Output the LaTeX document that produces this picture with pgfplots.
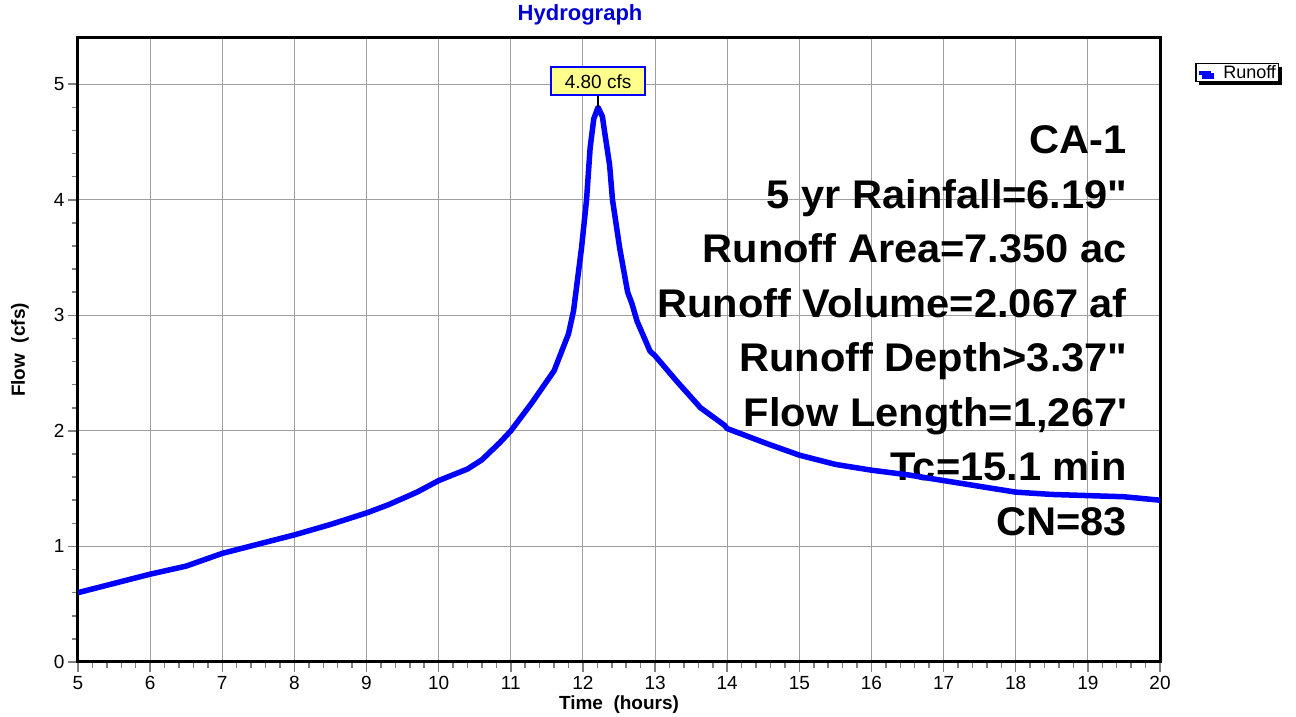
\documentclass[border=0pt]{standalone}
\usepackage{fontspec}
\setmainfont{Liberation Sans}
\newfontfamily\bigfont[FakeStretch=1.04]{Liberation Sans}
\usepackage{pgfplots}
\pgfplotsset{compat=1.18}
\usetikzlibrary{shadows}
\definecolor{runblue}{RGB}{0,0,255}
\definecolor{titleblue}{RGB}{0,0,210}
\definecolor{pkyellow}{RGB}{255,255,140}
\begin{document}
\begin{tikzpicture}
\path[use as bounding box] (-78pt,-55pt) rectangle (1218pt,662pt);
\begin{axis}[
  scale only axis,
  width=1082pt, height=624pt,
  at={(0,0)}, anchor=south west,
  xmin=5, xmax=20, ymin=0, ymax=5.4,
  xtick={5,...,20}, ytick={0,...,5},
  minor x tick num=4, minor y tick num=4,
  xtick pos=bottom, ytick pos=left,
  tick align=outside,
  major tick length=10pt, minor tick length=6pt,
  every tick/.style={gray, line width=1.5pt},
  grid=major,
  major grid style={gray!75, line width=1pt},
  axis line style={line width=3pt, black},
  /pgf/number format/assume math mode=true,
  every tick label/.append style={font=\fontsize{19}{21}\selectfont},
  xticklabel style={anchor=base, yshift=-18pt},
  title={Hydrograph},
  title style={at={(axis description cs:0.464,1.0192)}, anchor=base, font=\bfseries\fontsize{22}{24}\selectfont, text=titleblue},
  xlabel={Time\ \ (hours)},
  xlabel style={at={(axis description cs:0.5,-0.0769)}, anchor=base, font=\bfseries\fontsize{19}{21}\selectfont},
  ylabel={Flow\ \ (cfs)},
  ylabel style={at={(axis description cs:-0.049,0.5)}, anchor=base, font=\bfseries\fontsize{19}{21}\selectfont},
  legend style={at={(axis description cs:1,1)}, anchor=north west, xshift=35pt, yshift=-25pt,
    draw=black, line width=1.5pt, fill=white, inner xsep=1pt, inner ysep=0pt,
    font=\fontsize{18}{18}\selectfont,
    nodes={inner xsep=1.5pt, inner ysep=1.5pt},
    drop shadow={shadow xshift=3.5pt, shadow yshift=-3.5pt, fill=black, opacity=1}},
  legend image code/.code={\draw[runblue, line width=4pt] (0pt,0pt) -- (12pt,0pt);},
]
\node[anchor=base east, inner sep=0pt, font=\bigfont\bfseries\fontsize{40}{40}\selectfont] at (axis cs:19.543,4.399) {CA-1};
\node[anchor=base east, inner sep=0pt, font=\bigfont\bfseries\fontsize{40}{40}\selectfont] at (axis cs:19.543,3.927) {5 yr Rainfall=6.19\textquotedbl};
\node[anchor=base east, inner sep=0pt, font=\bigfont\bfseries\fontsize{40}{40}\selectfont] at (axis cs:19.543,3.456) {Runoff Area=7.350 ac};
\node[anchor=base east, inner sep=0pt, font=\bigfont\bfseries\fontsize{40}{40}\selectfont] at (axis cs:19.543,2.984) {Runoff Volume=2.067 af};
\node[anchor=base east, inner sep=0pt, font=\bigfont\bfseries\fontsize{40}{40}\selectfont] at (axis cs:19.543,2.513) {Runoff Depth>3.37\textquotedbl};
\node[anchor=base east, inner sep=0pt, font=\bigfont\bfseries\fontsize{40}{40}\selectfont] at (axis cs:19.543,2.042) {Flow Length=1,267\textquotesingle};
\node[anchor=base east, inner sep=0pt, font=\bigfont\bfseries\fontsize{40}{40}\selectfont] at (axis cs:19.543,1.570) {Tc=15.1 min};
\node[anchor=base east, inner sep=0pt, font=\bigfont\bfseries\fontsize{40}{40}\selectfont] at (axis cs:19.543,1.099) {CN=83};
\addplot[runblue, line width=5.5pt, line join=round] coordinates {
(5.0,0.60) (5.5,0.68) (6.0,0.76) (6.5,0.83) (7.0,0.94) (7.5,1.02) (8.0,1.10)
(8.5,1.19) (9.0,1.29) (9.3,1.36) (9.7,1.47) (10.0,1.57) (10.4,1.67) (10.6,1.75)
(10.85,1.90) (11.0,2.00) (11.3,2.25) (11.6,2.52) (11.8,2.84) (11.87,3.04)
(11.98,3.58) (12.05,4.00) (12.10,4.45) (12.15,4.70) (12.21,4.80) (12.27,4.72)
(12.30,4.59) (12.37,4.30) (12.41,4.00) (12.51,3.58) (12.62,3.20) (12.68,3.10)
(12.75,2.95) (12.93,2.69) (13.0,2.65) (13.3,2.43) (13.63,2.20) (13.96,2.05)
(14.0,2.02) (14.55,1.89) (15.0,1.79) (15.5,1.71) (16.0,1.66) (16.5,1.62)
(17.0,1.57) (17.5,1.52) (18.0,1.47) (18.5,1.45) (19.0,1.44) (19.5,1.43) (20.0,1.40)
};
\addlegendentry{\hspace{9pt}Runoff}
\draw[black, line width=1.5pt] (axis cs:12.21,4.80) -- ++(0pt,11pt)
  node[anchor=south, fill=pkyellow, draw=blue, line width=2pt, minimum width=94pt, minimum height=28pt, inner sep=0pt, font=\fontsize{19}{19}\selectfont] {4.80 cfs};
\end{axis}
\end{tikzpicture}
\end{document}
